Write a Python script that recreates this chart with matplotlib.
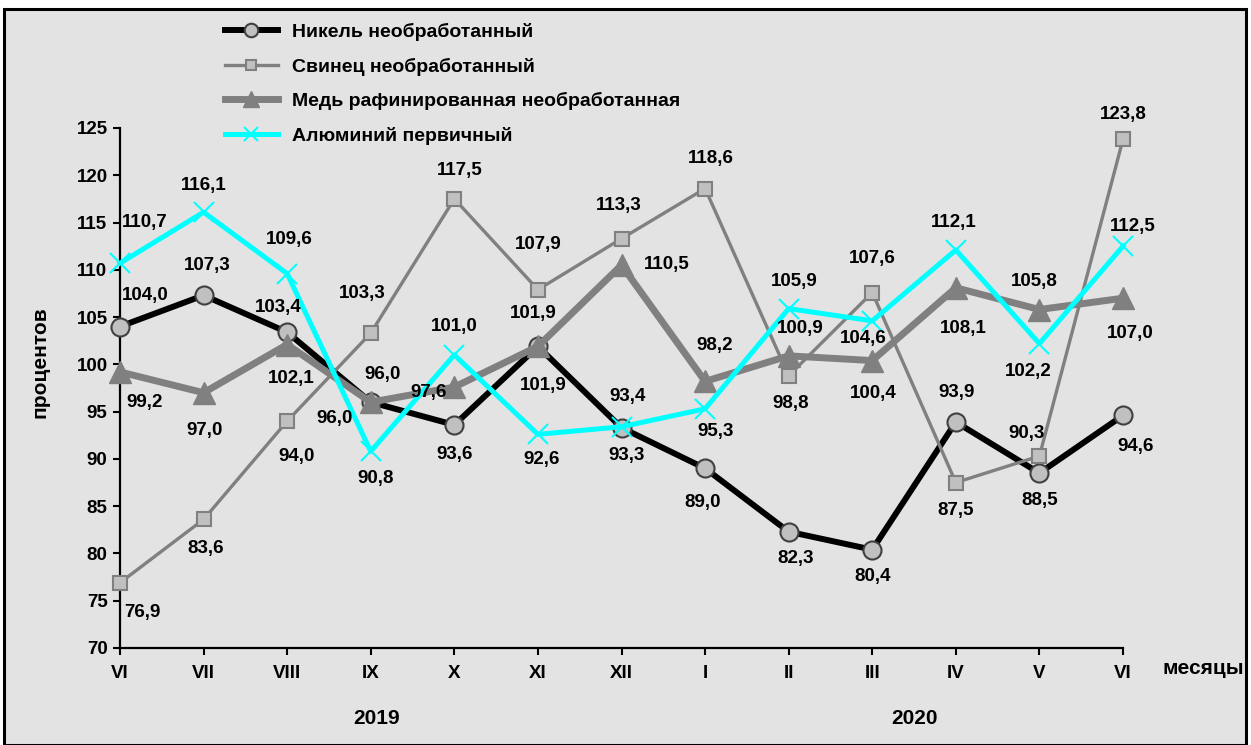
import matplotlib
matplotlib.use('Agg')
import matplotlib.pyplot as plt
from matplotlib.patches import Rectangle

plt.rcParams['font.family'] = ['Liberation Sans', 'DejaVu Sans']
plt.rcParams['font.weight'] = 'bold'

W, H = 1251, 745

months = ['VI', 'VII', 'VIII', 'IX', 'X', 'XI', 'XII', 'I', 'II', 'III', 'IV', 'V', 'VI']
nickel = [104.0, 107.3, 103.4, 96.0, 93.6, 101.9, 93.3, 89.0, 82.3, 80.4, 93.9, 88.5, 94.6]
lead = [76.9, 83.6, 94.0, 103.3, 117.5, 107.9, 113.3, 118.6, 98.8, 107.6, 87.5, 90.3, 123.8]
copper = [99.2, 97.0, 102.1, 96.0, 97.6, 101.9, 110.5, 98.2, 100.9, 100.4, 108.1, 105.8, 107.0]
alum = [110.7, 116.1, 109.6, 90.8, 101.0, 92.6, 93.4, 95.3, 105.9, 104.6, 112.1, 102.2, 112.5]
names = ['Никель необработанный', 'Свинец необработанный',
         'Медь рафинированная необработанная', 'Алюминий первичный']

# label offsets in pixels (dx, dy up)
off_nickel = [(25, 31), (4, 30), (-9, 25), (12, 28), (0, -30), (-5, 33), (5, -28),
              (-2, -34), (7, -27), (0, -27), (1, 30), (0, -27), (13, -31)]
off_lead = [(22, -30), (2, -29), (9, -35), (-9, 40), (5, 28), (0, 45), (-3, 33),
            (6, 30), (2, -28), (0, 34), (0, -28), (-13, 23), (0, 25)]
off_copper = [(25, -31), (1, -38), (4, -34), (-36, -16), (-26, -5), (5, -39), (45, 1),
              (10, 36), (12, 27), (1, -33), (7, -41), (-5, 28), (7, -35)]
off_alum = [(25, 41), (0, 27), (2, 34), (5, -27), (0, 28), (4, -25), (6, 30),
            (10, -23), (6, 27), (-9, -18), (-2, 27), (-11, -28), (10, 20)]

bg = '#e3e3e3'
fig = plt.figure(figsize=(W / 100, H / 100), dpi=100, facecolor='white')
fig.patches.append(Rectangle((4 / W, 0), 1242 / W, 1 - 9 / H, transform=fig.transFigure,
                             facecolor=bg, edgecolor='black', linewidth=2.2, zorder=-10))

ax = fig.add_axes([120 / W, 1 - 648 / H, 1003 / W, 520 / H])
ax.set_facecolor('none')
x = list(range(len(months)))

ax.plot(x, nickel, color='black', lw=4.3, marker='o', ms=13, mfc='#c0c0c0',
        mec='#404040', mew=1.5, label=names[0], zorder=3, clip_on=False)
ax.plot(x, lead, color='#808080', lw=2.4, marker='s', ms=10, mfc='#c0c0c0',
        mec='#808080', mew=1.5, label=names[1], zorder=4, clip_on=False)
ax.plot(x, copper, color='#808080', lw=5, marker='^', ms=16, mfc='#808080',
        mec='#808080', label=names[2], zorder=5, clip_on=False)
ax.plot(x, alum, color='#00ffff', lw=3.6, marker='x', ms=14, mew=1.5,
        label=names[3], zorder=6, clip_on=False)

for vals, offs in [(nickel, off_nickel), (lead, off_lead), (copper, off_copper), (alum, off_alum)]:
    for i, v in enumerate(vals):
        ax.annotate(f'{v:.1f}'.replace('.', ','), (i, v), xytext=offs[i],
                    textcoords='offset pixels', ha='center', va='center',
                    fontsize=13.5, fontweight='bold', zorder=10)

ax.set_xlim(0, 12)
ax.set_ylim(70, 125)
ax.set_yticks(range(70, 126, 5))
ax.set_xticks(x)
ax.set_xticklabels(months)
for s in ['top', 'right']:
    ax.spines[s].set_visible(False)
for s in ['left', 'bottom']:
    ax.spines[s].set_linewidth(1.6)
ax.tick_params(axis='both', direction='out', length=5, width=1.5, labelsize=13.5)
ax.tick_params(axis='x', pad=7)
ax.tick_params(axis='y', pad=4)

fig.text(40 / W, 1 - 362 / H, 'процентов', rotation=90, ha='center', va='center',
         fontsize=15, fontweight='bold')
fig.text(1203 / W, 1 - 668 / H, 'месяцы', ha='center', va='center', fontsize=15, fontweight='bold')
fig.text(377 / W, 1 - 718 / H, '2019', ha='center', va='center', fontsize=15, fontweight='bold')
fig.text(915 / W, 1 - 718 / H, '2020', ha='center', va='center', fontsize=15, fontweight='bold')

leg = fig.legend(loc='upper left', bbox_to_anchor=(225 / W, 1 - 23 / H), frameon=False,
                 fontsize=14, numpoints=1, handlelength=2.7, handletextpad=0.75,
                 labelspacing=0.85, borderpad=0, borderaxespad=0, markerscale=0.75)

fig.savefig('out.png', dpi=100, facecolor=fig.get_facecolor())
